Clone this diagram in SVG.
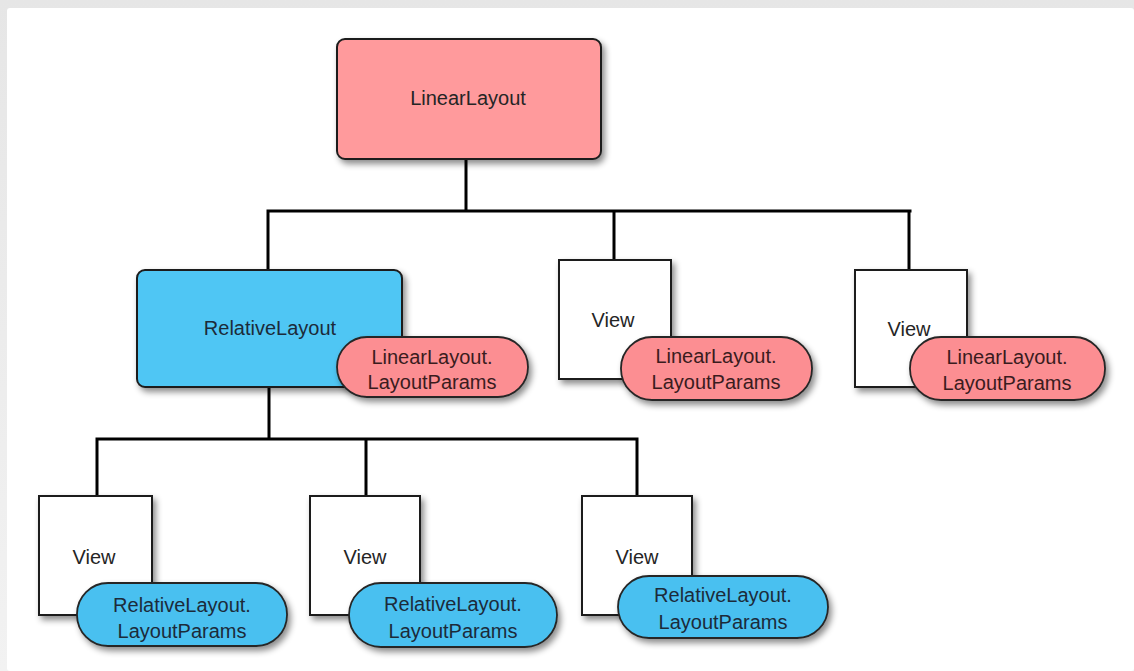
<svg xmlns="http://www.w3.org/2000/svg" width="1134" height="671" viewBox="0 0 1134 671">
  <defs>
    <filter id="shadow" x="-20%" y="-20%" width="150%" height="160%">
      <feDropShadow dx="3" dy="4" stdDeviation="3" flood-color="#000" flood-opacity="0.45"/>
    </filter>
    <linearGradient id="topfade" x1="0" y1="0" x2="0" y2="1">
      <stop offset="0" stop-color="#e6e6e6"/>
      <stop offset="1" stop-color="#f2f2f2"/>
    </linearGradient>
  </defs>
  <style>
    .box { stroke: #1e1e1e; stroke-width: 2; filter: url(#shadow); }
    .pink { fill: #ff9a9c; }
    .blue { fill: #4fc6f4; }
    .view { fill: #ffffff; }
    .pill { stroke: #262626; stroke-width: 1.8; filter: url(#shadow); }
    .pillpink { fill: #fc8e92; }
    .pillblue { fill: #48c0f0; }
    .conn { stroke: #000; stroke-width: 3; fill: none; stroke-linecap: square; }
    text { font-family: "Liberation Sans", Arial, sans-serif; font-size: 20px; text-anchor: middle; fill: #252525; }
    .tp { fill: #3a1c1e; }
    .tb { fill: #1c2b3a; }
  </style>

  <rect x="0" y="0" width="1134" height="671" fill="url(#topfade)"/>
  <rect x="7" y="8" width="1127" height="663" rx="3" fill="#ffffff"/>

  <g id="connectors">
    <path class="conn" d="M466 160 V211 M268 211 H910 M268 211 V270 M614 211 V260 M909 211 V270"/>
    <path class="conn" d="M269 388 V439 M97 439 H637 M97 439 V496 M366 439 V496 M637 439 V496"/>
  </g>

  <g id="linearlayout">
    <rect class="box pink" x="337" y="39" width="264" height="120" rx="8"/>
    <text x="468" y="105">LinearLayout</text>
  </g>

  <g id="relativelayout">
    <rect class="box blue" x="137" y="270" width="265" height="117" rx="8"/>
    <text x="270" y="335" class="tb">RelativeLayout</text>
  </g>
  <g id="relativelayout-params">
    <rect class="pill pillpink" x="337" y="337" width="191" height="60" rx="30"/>
    <text x="432" y="364" class="tp">LinearLayout.</text>
    <text x="432" y="389" class="tp">LayoutParams</text>
  </g>

  <g id="view-a">
    <rect class="box view" x="559" y="260" width="112" height="119"/>
    <text x="613" y="327">View</text>
  </g>
  <g id="view-a-params">
    <rect class="pill pillpink" x="621" y="337" width="191" height="63" rx="31"/>
    <text x="716" y="363" class="tp">LinearLayout.</text>
    <text x="716" y="389" class="tp">LayoutParams</text>
  </g>

  <g id="view-b">
    <rect class="box view" x="855" y="270" width="112" height="117"/>
    <text x="909" y="336">View</text>
  </g>
  <g id="view-b-params">
    <rect class="pill pillpink" x="910" y="337" width="195" height="63" rx="31"/>
    <text x="1007" y="364" class="tp">LinearLayout.</text>
    <text x="1007" y="390" class="tp">LayoutParams</text>
  </g>

  <g id="view-c">
    <rect class="box view" x="39" y="496" width="113" height="119"/>
    <text x="94" y="564">View</text>
  </g>
  <g id="view-c-params">
    <rect class="pill pillblue" x="77" y="583" width="210" height="63" rx="31"/>
    <text x="182" y="612" class="tb">RelativeLayout.</text>
    <text x="182" y="638" class="tb">LayoutParams</text>
  </g>

  <g id="view-d">
    <rect class="box view" x="310" y="496" width="110" height="119"/>
    <text x="365" y="564">View</text>
  </g>
  <g id="view-d-params">
    <rect class="pill pillblue" x="349" y="583" width="208" height="64" rx="32"/>
    <text x="453" y="611" class="tb">RelativeLayout.</text>
    <text x="453" y="638" class="tb">LayoutParams</text>
  </g>

  <g id="view-e">
    <rect class="box view" x="582" y="496" width="110" height="119"/>
    <text x="637" y="564">View</text>
  </g>
  <g id="view-e-params">
    <rect class="pill pillblue" x="618" y="576" width="210" height="62" rx="31"/>
    <text x="723" y="602" class="tb">RelativeLayout.</text>
    <text x="723" y="629" class="tb">LayoutParams</text>
  </g>
</svg>
